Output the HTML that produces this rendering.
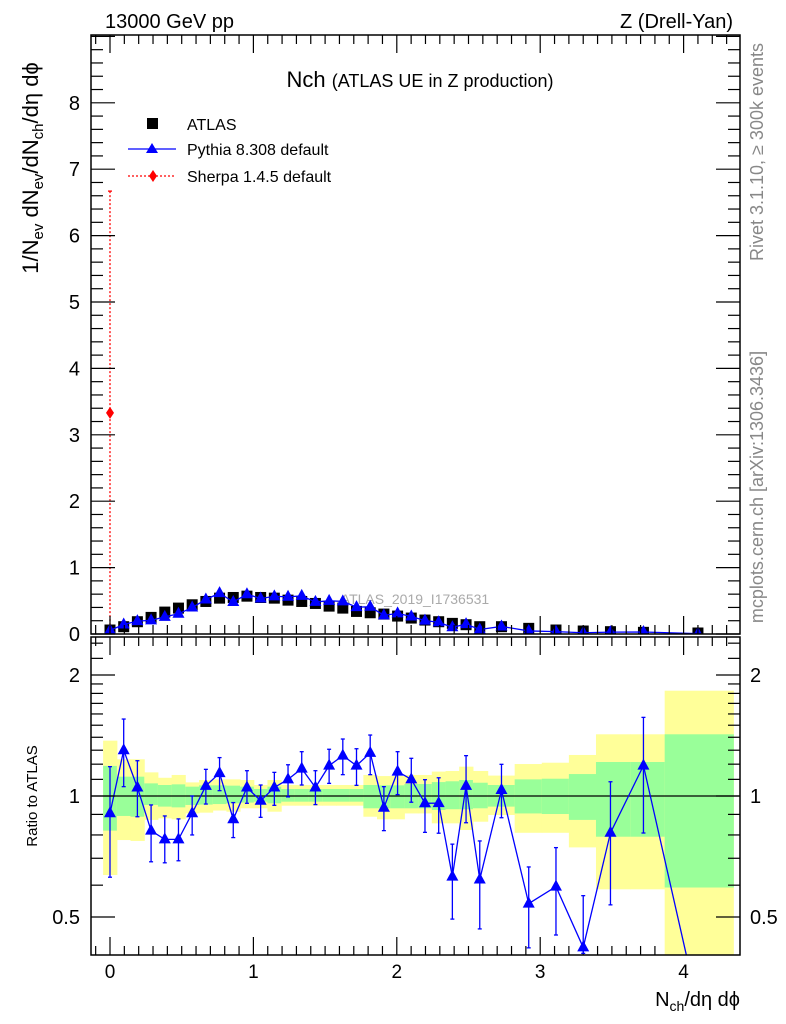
<!DOCTYPE html>
<html><head><meta charset="utf-8">
<style>
html,body{margin:0;padding:0;background:#fff;}
svg{display:block;font-family:"Liberation Sans",sans-serif;}
</style></head>
<body>
<svg id="chart" width="786" height="1024" viewBox="0 0 786 1024" xmlns="http://www.w3.org/2000/svg">
<text x="105" y="28" font-size="20">13000 GeV pp</text>
<text x="733" y="28" font-size="20" text-anchor="end">Z (Drell-Yan)</text>
<text x="420" y="87" font-size="22" text-anchor="middle">Nch <tspan font-size="18">(ATLAS UE in Z production)</tspan></text>
<text x="415" y="604" font-size="14" fill="#aaa" text-anchor="middle">ATLAS_2019_I1736531</text>
<text transform="translate(763,152) rotate(-90)" font-size="18" fill="#888" text-anchor="middle">Rivet 3.1.10, ≥ 300k events</text>
<text transform="translate(763,487) rotate(-90)" font-size="18" fill="#888" text-anchor="middle">mcplots.cern.ch [arXiv:1306.3436]</text>
<text transform="translate(38,168) rotate(-90)" font-size="22" text-anchor="middle">1/N<tspan font-size="15" dy="5">ev</tspan><tspan dy="-5"> dN</tspan><tspan font-size="15" dy="5">ev</tspan><tspan dy="-5">/dN</tspan><tspan font-size="15" dy="5">ch</tspan><tspan dy="-5">/dη dϕ</tspan></text>
<text transform="translate(37,796) rotate(-90)" font-size="15" text-anchor="middle">Ratio to ATLAS</text>
<text x="740" y="1006" font-size="20" text-anchor="end">N<tspan font-size="14" dy="5">ch</tspan><tspan dy="-5">/dη dϕ</tspan></text>
<g id="main"></g>
<g id="ratio"></g>
<g id="legend">
<rect x="147" y="118" width="11" height="11" fill="#000"/>
<text x="187" y="130" font-size="16">ATLAS</text>
<line x1="128" y1="149" x2="176" y2="149" stroke="#00f" stroke-width="1.3"/>
<polygon points="152,143 158,153 146,153" fill="#00f"/>
<text x="187" y="155" font-size="16">Pythia 8.308 default</text>
<line x1="128" y1="176" x2="176" y2="176" stroke="#f00" stroke-width="1.3" stroke-dasharray="2,2"/>
<polygon points="153,170 157,176 153,182 149,176" fill="#f00"/>
<text x="187" y="182" font-size="16">Sherpa 1.4.5 default</text>
</g>
</svg>
<script>
// ---- data ----
const xCenters = [0,0.0955,0.191,0.2865,0.382,0.4775,0.573,0.6685,0.764,0.8595,0.955,1.0505,1.146,1.2415,1.337,1.4325,1.528,1.6235,1.719,1.8145,1.91,2.0055,2.101,2.1965,2.292,2.3875,2.483,2.5785,2.73,2.92,3.11,3.30,3.49,3.72,4.10];
const binEdges = [-0.048,0.048,0.143,0.239,0.334,0.430,0.525,0.621,0.716,0.812,0.907,1.003,1.098,1.194,1.289,1.385,1.480,1.576,1.671,1.767,1.862,1.958,2.053,2.149,2.244,2.340,2.435,2.531,2.634,2.822,3.011,3.200,3.389,3.628,3.868,4.347];
const atlasValues = [0.06,0.11,0.185,0.25,0.33,0.39,0.44,0.49,0.54,0.55,0.57,0.55,0.54,0.51,0.49,0.46,0.42,0.39,0.34,0.32,0.30,0.27,0.24,0.21,0.185,0.16,0.14,0.11,0.11,0.085,0.06,0.045,0.035,0.025,0.015];
const pythiaRatio = [0.906,1.30,1.05,0.82,0.78,0.78,0.906,1.06,1.14,0.875,1.05,0.973,1.05,1.10,1.17,1.05,1.19,1.26,1.19,1.28,0.935,1.15,1.10,0.959,0.96,0.63,1.06,0.62,1.035,0.54,0.595,0.42,0.81,1.19,0.30];
const pythiaErrUp = [1.183,1.554,1.224,0.95,0.892,0.877,1.0,1.165,1.246,0.963,1.156,1.065,1.145,1.196,1.289,1.156,1.307,1.386,1.311,1.418,1.055,1.289,1.241,1.098,1.11,0.759,1.26,0.773,1.199,0.666,0.744,0.565,1.085,1.569,0.30];
const pythiaErrDn = [0.628,1.055,0.888,0.686,0.682,0.690,0.80,0.955,1.031,0.788,0.959,0.885,0.948,0.995,1.065,0.952,1.075,1.13,1.063,1.13,0.82,1.008,0.965,0.812,0.808,0.494,0.858,0.467,0.883,0.419,0.451,0.406,0.536,0.809,0.30];
const yellowUp = [1.373,1.234,1.234,1.145,1.11,1.128,1.081,1.096,1.10,1.10,1.096,1.065,1.096,1.065,1.065,1.065,1.065,1.065,1.065,1.128,1.121,1.121,1.128,1.128,1.15,1.154,1.183,1.154,1.124,1.201,1.21,1.265,1.424,1.424,1.828];
const yellowDn = [0.636,0.777,0.773,0.872,0.88,0.875,0.905,0.909,0.92,0.914,0.932,0.932,0.914,0.946,0.946,0.946,0.946,0.946,0.946,0.888,0.875,0.875,0.905,0.905,0.855,0.855,0.823,0.863,0.897,0.81,0.81,0.745,0.586,0.586,0.30];
const greenUp = [1.188,1.117,1.117,1.075,1.065,1.069,1.055,1.063,1.063,1.061,1.055,1.041,1.055,1.041,1.041,1.041,1.041,1.041,1.041,1.065,1.063,1.063,1.071,1.071,1.083,1.088,1.096,1.079,1.065,1.10,1.104,1.134,1.215,1.215,1.424];
const greenDn = [0.82,0.892,0.888,0.95,0.941,0.937,0.95,0.952,0.955,0.959,0.963,0.968,0.959,0.968,0.968,0.968,0.968,0.968,0.968,0.932,0.932,0.932,0.932,0.932,0.923,0.927,0.927,0.932,0.941,0.905,0.902,0.872,0.792,0.792,0.592];
const sherpaX = [0];
const sherpaY = [3.33];
const sherpaErrUp = [6.67];
const sherpaErrDn = [0];
const mainYTicks = [0,1,2,3,4,5,6,7,8];
const xTickLabels = [0,1,2,3,4];
const ratioTicks = [0.5,1,2];
const ratioTickLabels = ["0.5","1","2"];

// ---- axes ----
const L=91,R=740,MT=35,MB=634,RT=637,RB=955;
const xs=v=>110+v*143.4;
const ym=v=>634-v*66.4;
const yr=v=>796-Math.log2(v)*121;
const NS="http://www.w3.org/2000/svg";
function mk(parent,tag,attrs){const e=document.createElementNS(NS,tag);for(const k in attrs)e.setAttribute(k,attrs[k]);parent.appendChild(e);return e;}
const main=document.getElementById('main'), ratio=document.getElementById('ratio');

const defs=mk(document.getElementById('chart'),'defs',{});
const c1=mk(defs,'clipPath',{id:'cm'});mk(c1,'rect',{x:L,y:MT,width:R-L,height:MB-MT});
const c2=mk(defs,'clipPath',{id:'cr'});mk(c2,'rect',{x:L,y:RT,width:R-L,height:RB-RT});

// ratio bands
const bands=mk(ratio,'g',{'clip-path':'url(#cr)'});
for(let i=0;i<xCenters.length;i++){
  const x0=xs(binEdges[i]),x1=xs(binEdges[i+1]);
  let r=mk(bands,'rect',{x:x0,y:yr(yellowUp[i]),width:x1-x0+0.5,height:yr(yellowDn[i])-yr(yellowUp[i]),fill:'#ffff99'});
  
  
  r=mk(bands,'rect',{x:x0,y:yr(greenUp[i]),width:x1-x0+0.5,height:yr(greenDn[i])-yr(greenUp[i]),fill:'#99ff99'});
  
  
}
mk(ratio,'line',{x1:L,x2:R,y1:yr(1),y2:yr(1),stroke:'#000','stroke-width':1.3});

// ratio pythia
const rp=mk(ratio,'g',{'clip-path':'url(#cr)'});
let pts=xCenters.map((x,i)=>xs(x)+','+yr(pythiaRatio[i])).join(' ');
let pl=mk(rp,'polyline',{points:pts,fill:'none',stroke:'#00f','stroke-width':1.3});


xCenters.forEach((x,i)=>{
  const px=xs(x),y=yr(pythiaRatio[i]);
  if(pythiaErrUp[i]!==pythiaErrDn[i]){
    mk(rp,'line',{x1:px,x2:px,y1:yr(pythiaErrUp[i]),y2:yr(pythiaErrDn[i]),stroke:'#00f','stroke-width':1.3});
    mk(rp,'line',{x1:px-2,x2:px+2,y1:yr(pythiaErrUp[i]),y2:yr(pythiaErrUp[i]),stroke:'#00f','stroke-width':1.3});
    mk(rp,'line',{x1:px-2,x2:px+2,y1:yr(pythiaErrDn[i]),y2:yr(pythiaErrDn[i]),stroke:'#00f','stroke-width':1.3});
  }
  const t=mk(rp,'polygon',{points:`${px},${y-7} ${px+6},${y+4} ${px-6},${y+4}`,fill:'#00f'});
  
  
});

// main ATLAS
xCenters.forEach((x,i)=>{
  const s=mk(main,'rect',{x:xs(x)-5.5,y:ym(atlasValues[i])-5.5,width:11,height:11,fill:'#000','clip-path':'url(#cm)'});
  
  
});
pts=xCenters.map((x,i)=>xs(x)+','+ym(atlasValues[i]*pythiaRatio[i])).join(' ');
pl=mk(main,'polyline',{points:pts,fill:'none',stroke:'#00f','stroke-width':1.3});


xCenters.forEach((x,i)=>{
  const px=xs(x),y=ym(atlasValues[i]*pythiaRatio[i]);
  const t=mk(main,'polygon',{points:`${px},${y-7} ${px+6},${y+4} ${px-6},${y+4}`,fill:'#00f','clip-path':'url(#cm)'});
  
  
});
sherpaX.forEach((x,i)=>{
  const px=xs(x);
  const l=mk(main,'line',{x1:px,x2:px,y1:ym(sherpaErrUp[i]),y2:ym(sherpaErrDn[i]),stroke:'#f00','stroke-width':1.3,'stroke-dasharray':'2,2'});
  
  
  mk(main,'line',{x1:px-2,x2:px+2,y1:ym(sherpaErrUp[i]),y2:ym(sherpaErrUp[i]),stroke:'#f00','stroke-width':1.3});
  const y=ym(sherpaY[i]);
  const d=mk(main,'polygon',{points:`${px},${y-6} ${px+4},${y} ${px},${y+6} ${px-4},${y}`,fill:'#f00'});
  
  
});

mk(main,'rect',{x:L,y:MT,width:R-L,height:MB-MT,fill:'none',stroke:'#000','stroke-width':1.5});
mk(ratio,'rect',{x:L,y:RT,width:R-L,height:RB-RT,fill:'none',stroke:'#000','stroke-width':1.5});

for(let k=-1;k<=43;k++){
  const v=k/10,px=xs(v);if(px<L||px>R)continue;
  const major=k%10===0,len=major?18:9;
  [[MB,-1],[MT,1],[RB,-1],[RT,1]].forEach(([y0,d])=>mk(main,'line',{x1:px,x2:px,y1:y0,y2:y0+d*len,stroke:'#000','stroke-width':1.2}));
}
xTickLabels.forEach(v=>{const t=mk(ratio,'text',{x:xs(v),y:978,'font-size':19,'text-anchor':'middle'});t.textContent=v;
  });
for(let k=0;k<=45;k++){
  const v=k/5,y=ym(v);if(y<MT)continue;
  const major=k%5===0,len=major?24:12;
  mk(main,'line',{x1:L,x2:L+len,y1:y,y2:y,stroke:'#000','stroke-width':1.2});
  mk(main,'line',{x1:R,x2:R-len,y1:y,y2:y,stroke:'#000','stroke-width':1.2});
}
mainYTicks.forEach(v=>{const t=mk(main,'text',{x:80,y:ym(v)+7,'font-size':20,'text-anchor':'end'});t.textContent=v;
  });
const rminor=[0.4,0.6,0.7,0.8,0.9,1.1,1.2,1.3,1.4,1.5,1.6,1.7,1.8,1.9,2.2,2.4];
rminor.forEach(v=>{const y=yr(v);if(y<RT||y>RB)return;
  mk(ratio,'line',{x1:L,x2:L+12,y1:y,y2:y,stroke:'#000','stroke-width':1.2});
  mk(ratio,'line',{x1:R,x2:R-12,y1:y,y2:y,stroke:'#000','stroke-width':1.2});});
ratioTicks.forEach((v,i)=>{const y=yr(v);
  mk(ratio,'line',{x1:L,x2:L+24,y1:y,y2:y,stroke:'#000','stroke-width':1.2});
  mk(ratio,'line',{x1:R,x2:R-24,y1:y,y2:y,stroke:'#000','stroke-width':1.2});
  let t=mk(ratio,'text',{x:80,y:y+7,'font-size':20,'text-anchor':'end'});t.textContent=ratioTickLabels[i];
  
  t=mk(ratio,'text',{x:750,y:y+7,'font-size':20});t.textContent=ratioTickLabels[i];
  });
</script>
</body></html>
